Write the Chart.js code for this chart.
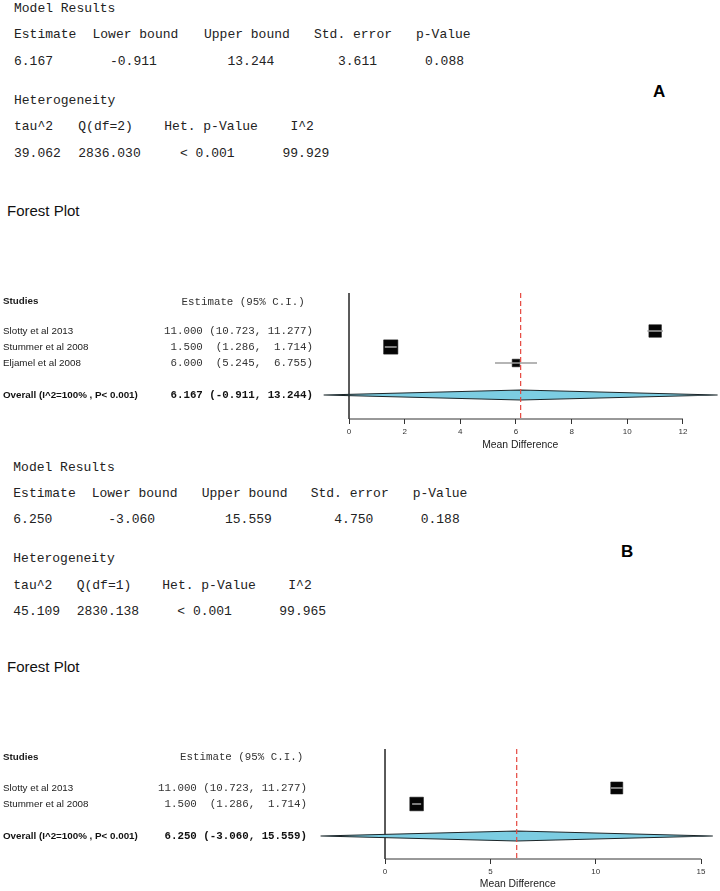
<!DOCTYPE html>
<html>
<head>
<meta charset="utf-8">
<script src="https://cdn.jsdelivr.net/npm/chart.js@4.4.1/dist/chart.umd.min.js"></script>
<style>
  html, body { margin:0; padding:0; background:#fff; }
  body { position:relative; width:720px; height:891px; overflow:hidden; }
  .t { position:absolute; white-space:pre; font-family:"Liberation Mono", monospace; font-size:13px; line-height:16px; color:#222; }
  .fp { position:absolute; white-space:pre; font-family:"Liberation Sans", Arial, sans-serif; font-size:15px; line-height:18px; color:#111; }
  .lab { position:absolute; font-family:"Liberation Sans", Arial, sans-serif; font-weight:bold; font-size:17px; line-height:20px; color:#000; }
  canvas { position:absolute; left:0; }
</style>
</head>
<body>
<canvas id="chartA" width="720" height="180" style="top:280px"></canvas>
<canvas id="chartB" width="720" height="156" style="top:735px"></canvas>
<script>
// ---------------- DATA ----------------
// Panel A
const modelHeadersA = ['Estimate', 'Lower bound', 'Upper bound', 'Std. error', 'p-Value'];
const modelValuesA  = ['6.167', '-0.911', '13.244', '3.611', '0.088'];
const hetHeadersA   = ['tau^2', 'Q(df=2)', 'Het. p-Value', 'I^2'];
const hetValuesA    = ['39.062', '2836.030', '< 0.001', '99.929'];
const studiesA      = ['Slotty et al 2013', 'Stummer et al 2008', 'Eljamel et al 2008'];
const estimatesA    = [11.000, 1.500, 6.000];
const lowersA       = [10.723, 1.286, 5.245];
const uppersA       = [11.277, 1.714, 6.755];
const overallA      = [6.167, -0.911, 13.244];   // estimate, lower, upper
const overallLabelA = 'Overall (I^2=100% , P< 0.001)';
const ticksA        = [0, 2, 4, 6, 8, 10, 12];

// Panel B
const modelHeadersB = ['Estimate', 'Lower bound', 'Upper bound', 'Std. error', 'p-Value'];
const modelValuesB  = ['6.250', '-3.060', '15.559', '4.750', '0.188'];
const hetHeadersB   = ['tau^2', 'Q(df=1)', 'Het. p-Value', 'I^2'];
const hetValuesB    = ['45.109', '2830.138', '< 0.001', '99.965'];
const studiesB      = ['Slotty et al 2013', 'Stummer et al 2008'];
const estimatesB    = [11.000, 1.500];
const lowersB       = [10.723, 1.286];
const uppersB       = [11.277, 1.714];
const overallB      = [6.250, -3.060, 15.559];
const overallLabelB = 'Overall (I^2=100% , P< 0.001)';
const ticksB        = [0, 5, 10, 15];

// ---------------- TEXT TABLES (layout) ----------------
function addText(cls, txt, x, cy, h) {
  const d = document.createElement('div');
  d.className = cls;
  d.textContent = txt;
  d.style.left = x + 'px';
  d.style.top = (cy - h / 2) + 'px';
  document.body.appendChild(d);
}
function addTable(cfg) {
  addText('t', 'Model Results', cfg.x0, cfg.rows[0], 16);
  cfg.mh.forEach((s, i) => addText('t', s, cfg.mhx[i], cfg.rows[1], 16));
  cfg.mv.forEach((s, i) => addText('t', s, cfg.mvx[i], cfg.rows[2], 16));
  addText('t', 'Heterogeneity', cfg.x0, cfg.rows[3], 16);
  cfg.hh.forEach((s, i) => addText('t', s, cfg.hhx[i], cfg.rows[4], 16));
  cfg.hv.forEach((s, i) => addText('t', s, cfg.hvx[i], cfg.rows[5], 16));
  addText('fp', 'Forest Plot', 7, cfg.fpY, 18);
  addText('lab', cfg.label, cfg.labelX, cfg.labelY, 20);
}
addTable({
  x0: 14, rows: [8.5, 35, 61.5, 100.5, 127, 153.5],
  mh: modelHeadersA, mhx: [14, 92.5, 204, 314, 416],
  mv: modelValuesA,  mvx: [14, 110, 227.5, 338, 425],
  hh: hetHeadersA,   hhx: [14, 78.3, 164.3, 290.5],
  hv: hetValuesA,    hvx: [14, 78.3, 180, 282.5],
  fpY: 211, label: 'A', labelX: 653, labelY: 91.5
});
addTable({
  x0: 13.3, rows: [468.3, 494, 520.3, 559.3, 585.7, 611.7],
  mh: modelHeadersB, mhx: [13.3, 91.7, 201.7, 310.7, 412.7],
  mv: modelValuesB,  mvx: [13.3, 108.3, 225, 334.3, 420.7],
  hh: hetHeadersB,   hhx: [13.3, 76.7, 162.3, 288.3],
  hv: hetValuesB,    hvx: [13.3, 76.7, 177.3, 279.3],
  fpY: 667, label: 'B', labelX: 621, labelY: 551.5
});

// ---------------- FOREST PLOTS ----------------
function ciText(e, l, u) {
  return e.toFixed(3).padStart(6) + ' ' + ('(' + l.toFixed(3) + ',').padStart(8) + ' ' + (u.toFixed(3) + ')').padStart(7);
}

function buildForest(id, d, L) {
  const n = d.studies.length;
  const overallRow = n + 2;
  const rowsY = d.est.map((_, i) => i + 1);
  const half = 0.3125;
  const [oe, ol, ou] = d.overall;
  const sides = d.lo.map((l, i) => L.sq / Math.sqrt(d.hi[i] - l));

  const datasets = [];
  // reference line at overall estimate
  datasets.push({
    data: [{ x: oe, y: L.yMin }, { x: oe, y: L.yMax }],
    showLine: true, borderColor: '#e5473f', borderWidth: 1.2, borderDash: [5, 3],
    pointRadius: 0, clip: false
  });
  // CI whiskers
  d.est.forEach((e, i) => {
    datasets.push({
      data: [{ x: d.lo[i], y: rowsY[i] }, { x: d.hi[i], y: rowsY[i] }],
      showLine: true, borderColor: '#9c9c9c', borderWidth: 1.6, pointRadius: 0, clip: false
    });
  });
  // study squares
  datasets.push({
    data: d.est.map((e, i) => ({ x: e, y: rowsY[i] })),
    showLine: false, pointStyle: 'rect',
    pointRadius: c => sides[c.dataIndex] / Math.SQRT2,
    backgroundColor: '#050505', borderColor: '#1a1a1a', borderWidth: 0.6, clip: false
  });
  // summary diamond
  datasets.push({
    data: [
      { x: ol, y: overallRow }, { x: oe, y: overallRow - half },
      { x: ou, y: overallRow }, { x: oe, y: overallRow + half }, { x: ol, y: overallRow }
    ],
    showLine: true, fill: 'shape', tension: 0,
    backgroundColor: '#7ccde2', borderColor: '#1c2629', borderWidth: 1.2, pointRadius: 0, clip: false
  });
  // axis lines
  datasets.push({
    data: [{ x: d.ticks[0], y: L.yMax }, { x: d.ticks[d.ticks.length - 1], y: L.yMax }],
    showLine: true, borderColor: '#333', borderWidth: 1, pointRadius: 0, clip: false
  });
  datasets.push({
    data: [{ x: d.ticks[0], y: L.yMin }, { x: d.ticks[0], y: L.yMax }],
    showLine: true, borderColor: '#444', borderWidth: 1, pointRadius: 0, clip: false
  });

  const textPlugin = {
    id: 'forestText' + id,
    afterDraw(chart) {
      const ctx = chart.ctx, ys = chart.scales.y;
      ctx.save();
      ctx.fillStyle = '#1a1a1a';
      ctx.textBaseline = 'middle';
      const hy = ys.getPixelForValue(L.headerRow);
      ctx.textAlign = 'left';
      ctx.font = 'bold 9.8px "Liberation Sans"';
      ctx.fillText('Studies', 3, hy);
      ctx.font = '10.8px "Liberation Mono"';
      ctx.fillStyle = '#333';
      ctx.fillText('Estimate (95% C.I.)', L.estHeadX, hy);
      d.studies.forEach((s, i) => {
        const y = ys.getPixelForValue(rowsY[i]);
        ctx.fillStyle = '#1a1a1a';
        ctx.textAlign = 'left';
        ctx.font = '9.8px "Liberation Sans"';
        ctx.fillText(s, 3, y);
        ctx.fillStyle = '#333';
        ctx.textAlign = 'right';
        ctx.font = '10.8px "Liberation Mono"';
        ctx.fillText(ciText(d.est[i], d.lo[i], d.hi[i]), L.estRight, y);
      });
      const oy = ys.getPixelForValue(overallRow);
      ctx.fillStyle = '#111';
      ctx.textAlign = 'left';
      ctx.font = 'bold 9.8px "Liberation Sans"';
      ctx.fillText(d.overallLabel, 3, oy);
      ctx.textAlign = 'right';
      ctx.font = 'bold 10.8px "Liberation Mono"';
      ctx.fillText(ciText(oe, ol, ou), L.estRight, oy);
      ctx.restore();
    }
  };

  new Chart(document.getElementById(id), {
    type: 'scatter',
    data: { datasets },
    plugins: [textPlugin],
    options: {
      responsive: false, animation: false, events: [],
      layout: { autoPadding: false, padding: { left: L.padL, right: L.padR, top: L.padT, bottom: 0 } },
      plugins: { legend: { display: false }, tooltip: { enabled: false } },
      scales: {
        x: {
          type: 'linear', min: L.xMin, max: L.xMax,
          afterBuildTicks: s => { s.ticks = d.ticks.map(v => ({ value: v })); },
          afterFit: s => { s.height = L.xH; s.paddingLeft = 0; s.paddingRight = 0; },
          border: { display: false },
          grid: { drawOnChartArea: false, drawTicks: true, tickLength: 5, color: '#333', lineWidth: 1 },
          ticks: { autoSkip: false, maxRotation: 0, padding: 3, color: '#333',
                   font: { family: 'Liberation Sans', size: 8 }, callback: v => String(v) },
          title: { display: true, text: 'Mean Difference', color: '#222',
                   font: { family: 'Liberation Sans', size: 10.4 }, padding: { top: 0, bottom: L.titlePad } }
        },
        y: { type: 'linear', display: false, min: L.yMin, max: L.yMax, reverse: true }
      }
    }
  });
}

buildForest('chartA',
  { studies: studiesA, est: estimatesA, lo: lowersA, hi: uppersA, overall: overallA,
    overallLabel: overallLabelA, ticks: ticksA },
  { xMin: -1, xMax: 13.3, padL: 321.17, padR: 0.83, padT: 13, xH: 41, titlePad: 8.5,
    yMin: -1.375, yMax: 6.5, headerRow: -0.83, estHeadX: 181.5, estRight: 313, sq: 9.3 });

buildForest('chartB',
  { studies: studiesB, est: estimatesB, lo: lowersB, hi: uppersB, overall: overallB,
    overallLabel: overallLabelB, ticks: ticksB },
  { xMin: -3.2, xMax: 15.8, padL: 317.6, padR: 2.1, padT: 14, xH: 32, titlePad: 0.5,
    yMin: -1.4375, yMax: 5.4375, headerRow: -0.9, estHeadX: 180, estRight: 307, sq: 8.9 });
</script>
</body>
</html>
